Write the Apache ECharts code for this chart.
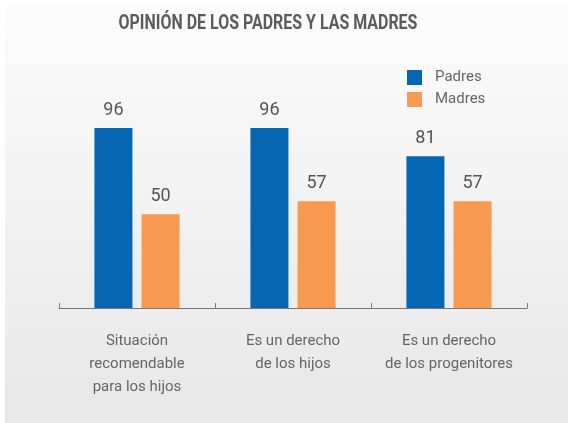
<!DOCTYPE html>
<html>
<head>
<meta charset="utf-8">
<script src="https://cdn.jsdelivr.net/npm/echarts@6/dist/echarts.min.js"></script>
<style>
  html, body { margin: 0; padding: 0; background: #fff; }
  #chart { width: 572px; height: 423px; }
</style>
</head>
<body>
<div id="chart"></div>
<script>
const categories = [
  "Situación\nrecomendable\npara los hijos",
  "Es un derecho\nde los hijos",
  "Es un derecho\nde los progenitores"
];
const padres = [96, 96, 81];
const madres = [50, 57, 57];

const FONT = "Roboto, 'Open Sans', sans-serif";

const chart = echarts.init(document.getElementById("chart"));

chart.setOption({
  animation: false,
  graphic: [
    {
      type: "rect",
      z: -10,
      shape: { x: 5, y: 5, width: 563, height: 418 },
      style: {
        fill: new echarts.graphic.LinearGradient(0, 0, 0, 1, [
          { offset: 0, color: "#fcfcfc" },
          { offset: 1, color: "#e7e7e8" }
        ])
      }
    },
    {
      // condensed-looking title
      type: "text",
      x: 268,
      y: 24,
      scaleX: 0.76,
      style: {
        text: "OPINIÓN DE LOS PADRES Y LAS MADRES",
        x: 0,
        y: 0,
        align: "center",
        verticalAlign: "middle",
        font: "bold 21px " + FONT,
        fill: "#5b5b5d"
      }
    }
  ],
  legend: {
    orient: "vertical",
    left: 402,
    top: 65,
    itemWidth: 15,
    itemHeight: 15,
    itemGap: 7,
    icon: "rect",
    textStyle: {
      fontFamily: FONT,
      fontSize: 15,
      color: "#666",
      padding: [0, 0, 0, 8]
    },
    data: ["Padres", "Madres"]
  },
  grid: {
    left: 59,
    right: 45,
    top: 120.5,
    bottom: 115
  },
  xAxis: {
    type: "category",
    data: categories,
    axisLine: {
      lineStyle: { color: "#777", width: 1 }
    },
    axisTick: {
      show: true,
      inside: true,
      length: 5,
      lineStyle: { color: "#777" }
    },
    axisLabel: {
      interval: 0,
      margin: 22,
      lineHeight: 23,
      fontFamily: FONT,
      fontSize: 15,
      color: "#666"
    }
  },
  yAxis: {
    type: "value",
    min: 0,
    max: 100,
    show: false,
    splitLine: { show: false }
  },
  series: [
    {
      name: "Padres",
      type: "bar",
      data: padres,
      barWidth: 38,
      barGap: "24%",
      itemStyle: { color: "#0567b3" },
      label: {
        show: true,
        position: "top",
        distance: 9,
        fontFamily: FONT,
        fontSize: 18,
        color: "#555"
      }
    },
    {
      name: "Madres",
      type: "bar",
      data: madres,
      barWidth: 38,
      itemStyle: { color: "#f79a4f" },
      label: {
        show: true,
        position: "top",
        distance: 9,
        fontFamily: FONT,
        fontSize: 18,
        color: "#555"
      }
    }
  ]
});
</script>
</body>
</html>
